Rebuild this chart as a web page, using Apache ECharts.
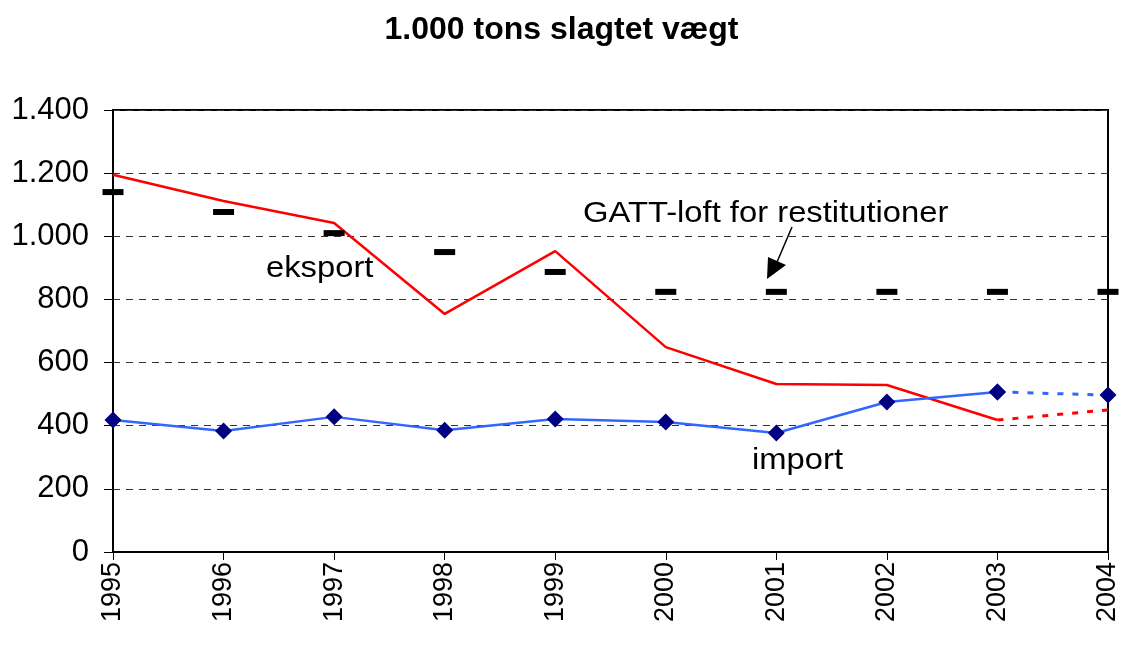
<!DOCTYPE html>
<html>
<head>
<meta charset="utf-8">
<style>
  html, body { margin: 0; padding: 0; background: #fff; }
  #chart { width: 1123px; height: 648px; }
</style>
<script src="https://cdn.jsdelivr.net/npm/echarts@6/dist/echarts.min.js"></script>
</head>
<body>
<div id="chart"></div>
<script>
// Years on the category axis
const years = ['1995', '1996', '1997', '1998', '1999', '2000', '2001', '2002', '2003', '2004'];
// Export, 1.000 tons carcass weight (2004 is a projection)
const eksport = [1195, 1112, 1042, 754, 953, 649, 532, 529, 418, 450];
// Import, 1.000 tons carcass weight (2004 is a projection)
const importVals = [418, 383, 428, 386, 421, 412, 377, 475, 507, 497];
// GATT ceiling for export refunds
const gattLoft = [1140, 1077, 1010, 950, 887, 824, 824, 824, 824, 824];
// Y axis ticks
const yMin = 0, yMax = 1400, yStep = 200;

const FONT = '"Liberation Sans", Arial, sans-serif';
const lastSolid = 8; // index of 2003; the segment to 2004 is drawn dotted

function solidPart(arr) { return arr.map((v, i) => i <= lastSolid ? v : '-'); }
function dottedPart(arr) { return arr.map((v, i) => i >= lastSolid ? v : '-'); }
function fmtThousands(v) { return String(v).replace(/\B(?=(\d{3})+(?!\d))/g, '.'); }

// Text annotation inside the plot, slightly widened like the axis labels
function note(text, x, y) {
  return {
    type: 'text', x: x, y: y, scaleX: 1.13, scaleY: 1, originX: 0, originY: 0,
    style: { text: text, fontFamily: FONT, fontSize: 29, fill: '#000', verticalAlign: 'top' }
  };
}

const chart = echarts.init(document.getElementById('chart'), null, { renderer: 'canvas' });

chart.setOption({
  animation: false,
  backgroundColor: '#ffffff',
  title: {
    text: '1.000 tons slagtet vægt',
    left: 'center',
    top: 9,
    textStyle: { fontFamily: FONT, fontSize: 32, fontWeight: 'bold', color: '#000' }
  },
  grid: {
    left: 113, right: 15, top: 110, bottom: 96,
    show: true, borderColor: '#000', borderWidth: 2, backgroundColor: 'transparent'
  },
  xAxis: {
    type: 'category',
    data: years,
    boundaryGap: false,
    axisLine: { lineStyle: { color: '#000', width: 2 } },
    axisTick: { show: true, length: 8, alignWithLabel: true, lineStyle: { color: '#000', width: 1 } },
    axisLabel: { rotate: 90, fontFamily: FONT, fontSize: 27, color: '#000', margin: 10 },
    splitLine: { show: false }
  },
  yAxis: {
    type: 'value',
    min: yMin, max: yMax, interval: yStep,
    axisLine: { show: true, lineStyle: { color: '#000', width: 2 } },
    axisTick: { show: true, length: 9, lineStyle: { color: '#000', width: 1 } },
    axisLabel: { fontFamily: FONT, fontSize: 31, color: '#000', margin: 24, formatter: fmtThousands },
    splitLine: { show: true, lineStyle: { color: '#333', width: 1, type: [7, 6] } }
  },
  series: [
    {
      name: 'eksport', type: 'line', data: solidPart(eksport),
      symbol: 'none', lineStyle: { color: '#ff0000', width: 2.5 }, z: 3
    },
    {
      name: 'eksport prognose', type: 'line', data: dottedPart(eksport),
      symbol: 'none', lineStyle: { color: '#ff0000', width: 3, type: [6, 9] }, z: 3
    },
    {
      name: 'import', type: 'line', data: solidPart(importVals),
      symbol: 'diamond', symbolSize: 17, showSymbol: true,
      itemStyle: { color: '#000080' },
      lineStyle: { color: '#3366ff', width: 2.5 }, z: 4
    },
    {
      name: 'import prognose', type: 'line', data: dottedPart(importVals),
      symbol: 'diamond', symbolSize: 17, showSymbol: true,
      itemStyle: { color: '#000080' },
      lineStyle: { color: '#3366ff', width: 3, type: [6, 9] }, z: 4
    },
    {
      name: 'GATT-loft', type: 'scatter', data: gattLoft,
      symbol: 'rect', symbolSize: [21, 6],
      itemStyle: { color: '#000', opacity: 1 }, z: 5
    }
  ],
  graphic: [
    note('eksport', 266, 254),
    note('GATT-loft for restitutioner', 583, 199),
    note('import', 752, 446),
    { type: 'line', shape: { x1: 792, y1: 227, x2: 777, y2: 262 },
      style: { stroke: '#000', lineWidth: 1.5 } },
    { type: 'polygon', shape: { points: [[767, 279], [768, 257], [786, 265]] },
      style: { fill: '#000' } }
  ]
});
</script>
</body>
</html>
